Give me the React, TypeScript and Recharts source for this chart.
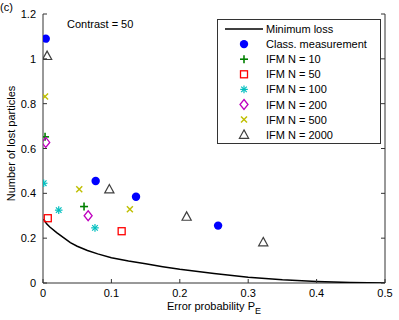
import React from 'react';
import { ScatterChart, Scatter, XAxis, YAxis } from 'recharts';

const FONT = "'Liberation Sans', Arial, sans-serif";
const AXIS = '#333';

// minimum loss curve
const minLoss = [
  { pe: 0.001, loss: 0.285 },
  { pe: 0.005, loss: 0.265 },
  { pe: 0.01, loss: 0.25 },
  { pe: 0.02, loss: 0.225 },
  { pe: 0.03, loss: 0.202 },
  { pe: 0.04, loss: 0.18 },
  { pe: 0.05, loss: 0.164 },
  { pe: 0.065, loss: 0.145 },
  { pe: 0.08, loss: 0.13 },
  { pe: 0.1, loss: 0.113 },
  { pe: 0.125, loss: 0.098 },
  { pe: 0.15, loss: 0.086 },
  { pe: 0.175, loss: 0.073 },
  { pe: 0.2, loss: 0.061 },
  { pe: 0.25, loss: 0.042 },
  { pe: 0.3, loss: 0.026 },
  { pe: 0.35, loss: 0.014 },
  { pe: 0.4, loss: 0.007 },
  { pe: 0.45, loss: 0.002 },
  { pe: 0.5, loss: 0 },
];

const classMeasurement = [
  { pe: 0.004, loss: 1.09 },
  { pe: 0.077, loss: 0.455 },
  { pe: 0.136, loss: 0.385 },
  { pe: 0.256, loss: 0.256 },
];
const ifm10 = [
  { pe: 0.003, loss: 0.652 },
  { pe: 0.06, loss: 0.341 },
];
const ifm50 = [
  { pe: 0.007, loss: 0.289 },
  { pe: 0.115, loss: 0.231 },
];
const ifm100 = [
  { pe: 0.001, loss: 0.445 },
  { pe: 0.023, loss: 0.325 },
  { pe: 0.076, loss: 0.246 },
];
const ifm200 = [
  { pe: 0.004, loss: 0.627 },
  { pe: 0.066, loss: 0.3 },
];
const ifm500 = [
  { pe: 0.003, loss: 0.832 },
  { pe: 0.053, loss: 0.418 },
  { pe: 0.127, loss: 0.329 },
];
const ifm2000 = [
  { pe: 0.006, loss: 1.013 },
  { pe: 0.097, loss: 0.418 },
  { pe: 0.21, loss: 0.296 },
  { pe: 0.322, loss: 0.182 },
];

const xTicks = [0, 0.1, 0.2, 0.3, 0.4, 0.5];
const yTicks = [0, 0.2, 0.4, 0.6, 0.8, 1, 1.2];

type Kind = 'circle' | 'plus' | 'square' | 'star' | 'diamond' | 'cross' | 'triangle';

const series: { name: string; data: { pe: number; loss: number }[]; kind: Kind; color: string }[] = [
  { name: 'Class. measurement', data: classMeasurement, kind: 'circle', color: '#0000ff' },
  { name: 'IFM N = 10', data: ifm10, kind: 'plus', color: '#008000' },
  { name: 'IFM N = 50', data: ifm50, kind: 'square', color: '#ff0000' },
  { name: 'IFM N = 100', data: ifm100, kind: 'star', color: '#00bfbf' },
  { name: 'IFM N = 200', data: ifm200, kind: 'diamond', color: '#bf00bf' },
  { name: 'IFM N = 500', data: ifm500, kind: 'cross', color: '#bfbf00' },
  { name: 'IFM N = 2000', data: ifm2000, kind: 'triangle', color: '#404040' },
];

function Marker({ kind, color, cx, cy }: { kind: Kind; color: string; cx: number; cy: number }) {
  const sw = 1.3;
  switch (kind) {
    case 'circle':
      return <circle cx={cx} cy={cy} r={4.2} fill={color} />;
    case 'plus':
      return (
        <g stroke={color} strokeWidth={1.6}>
          <line x1={cx - 4} y1={cy} x2={cx + 4} y2={cy} />
          <line x1={cx} y1={cy - 4} x2={cx} y2={cy + 4} />
        </g>
      );
    case 'square':
      return <rect x={cx - 3.5} y={cy - 3.5} width={7} height={7} fill="none" stroke={color} strokeWidth={sw} />;
    case 'star':
      return (
        <g stroke={color} strokeWidth={1.2}>
          <line x1={cx - 3.8} y1={cy} x2={cx + 3.8} y2={cy} />
          <line x1={cx} y1={cy - 3.8} x2={cx} y2={cy + 3.8} />
          <line x1={cx - 2.8} y1={cy - 2.8} x2={cx + 2.8} y2={cy + 2.8} />
          <line x1={cx - 2.8} y1={cy + 2.8} x2={cx + 2.8} y2={cy - 2.8} />
        </g>
      );
    case 'diamond':
      return (
        <polygon
          points={`${cx},${cy - 5} ${cx + 4},${cy} ${cx},${cy + 5} ${cx - 4},${cy}`}
          fill="none"
          stroke={color}
          strokeWidth={sw}
        />
      );
    case 'cross':
      return (
        <g stroke={color} strokeWidth={1.4}>
          <line x1={cx - 3} y1={cy - 3} x2={cx + 3} y2={cy + 3} />
          <line x1={cx - 3} y1={cy + 3} x2={cx + 3} y2={cy - 3} />
        </g>
      );
    case 'triangle':
      return (
        <polygon
          points={`${cx},${cy - 4.8} ${cx + 4.6},${cy + 3.6} ${cx - 4.6},${cy + 3.6}`}
          fill="none"
          stroke={color}
          strokeWidth={1.2}
        />
      );
  }
  return null;
}

const BottomTick = (props: any) => {
  const { x, y, payload } = props;
  return (
    <g>
      <line x1={x} y1={y} x2={x} y2={y - 4} stroke={AXIS} />
      <text x={x} y={y + 14} textAnchor="middle" fontSize={11} fontFamily={FONT} fill="#000">
        {payload.value}
      </text>
    </g>
  );
};

const TopTick = (props: any) => {
  const { x, y } = props;
  return <line x1={x} y1={y} x2={x} y2={y + 4} stroke={AXIS} />;
};

const LeftTick = (props: any) => {
  const { x, y, payload } = props;
  return (
    <g>
      <line x1={x} y1={y} x2={x + 4} y2={y} stroke={AXIS} />
      <text x={x - 7} y={y + 4} textAnchor="end" fontSize={11} fontFamily={FONT} fill="#000">
        {payload.value}
      </text>
    </g>
  );
};

const RightTick = (props: any) => {
  const { x, y } = props;
  return <line x1={x} y1={y} x2={x - 4} y2={y} stroke={AXIS} />;
};

function LegendBox() {
  const rowH = 15.1;
  return (
    <svg width={165} height={126} style={{ display: 'block' }}>
      <rect x={0.5} y={0.5} width={163} height={124} fill="#fff" stroke={AXIS} />
      <line x1={8} y1={10} x2={46} y2={10} stroke="#000" strokeWidth={1.5} />
      <text x={49} y={14} fontSize={11} fontFamily={FONT} fill="#000">
        Minimum loss
      </text>
      {series.map((s, i) => {
        const cy = 10 + rowH * (i + 1);
        return (
          <g key={s.name}>
            <Marker kind={s.kind} color={s.color} cx={27} cy={cy} />
            <text x={49} y={cy + 4} fontSize={11} fontFamily={FONT} fill="#000">
              {s.name}
            </text>
          </g>
        );
      })}
    </svg>
  );
}

export default function App() {
  return (
    <div style={{ position: 'absolute', left: 0, top: 0, width: 399, height: 320, background: '#fff', fontFamily: FONT }}>
      <ScatterChart width={399} height={320} margin={{ top: 14, right: 13, left: 0, bottom: 0 }}>
        <XAxis
          xAxisId="b"
          type="number"
          dataKey="pe"
          domain={[0, 0.5]}
          ticks={xTicks}
          height={37}
          tickSize={0}
          tickMargin={0}
          tick={<BottomTick />}
          axisLine={{ stroke: AXIS }}
          allowDataOverflow
          label={{
            content: (p: any) => {
              const vb = p.viewBox;
              const cx = vb.x + vb.width / 2;
              return (
                <text x={cx} y={vb.y + 27} textAnchor="middle" fontSize={11} fontFamily={FONT} fill="#000">
                  Error probability P
                  <tspan fontSize={9} dy={4}>E</tspan>
                </text>
              );
            },
          }}
        />
        <XAxis
          xAxisId="t"
          orientation="top"
          type="number"
          dataKey="pe"
          domain={[0, 0.5]}
          ticks={xTicks}
          height={0}
          tickSize={0}
          tickMargin={0}
          tick={<TopTick />}
          axisLine={{ stroke: AXIS }}
          allowDataOverflow
        />
        <YAxis
          yAxisId="l"
          type="number"
          dataKey="loss"
          domain={[0, 1.2]}
          ticks={yTicks}
          width={43}
          tickSize={0}
          tickMargin={0}
          tick={<LeftTick />}
          axisLine={{ stroke: AXIS }}
          allowDataOverflow
          label={{
            content: (p: any) => {
              const vb = p.viewBox;
              const cy = vb.y + vb.height / 2 - 5;
              return (
                <text
                  x={11}
                  y={cy}
                  transform={`rotate(-90 11 ${cy})`}
                  textAnchor="middle"
                  dominantBaseline="central"
                  fontSize={11}
                  fontFamily={FONT}
                  fill="#000"
                >
                  Number of lost particles
                </text>
              );
            },
          }}
        />
        <YAxis
          yAxisId="r"
          orientation="right"
          type="number"
          dataKey="loss"
          domain={[0, 1.2]}
          ticks={yTicks}
          width={1}
          tickSize={0}
          tickMargin={0}
          tick={<RightTick />}
          axisLine={{ stroke: AXIS }}
          allowDataOverflow
        />
        <Scatter
          name="Minimum loss"
          data={minLoss}
          xAxisId="b"
          yAxisId="l"
          line={{ stroke: '#000', strokeWidth: 1.5 }}
          lineType="joint"
          shape={() => <g />}
          isAnimationActive={false}
        />
        {series.map((s) => (
          <Scatter
            key={s.name}
            name={s.name}
            data={s.data}
            xAxisId="b"
            yAxisId="l"
            shape={(p: any) => <Marker kind={s.kind} color={s.color} cx={p.cx} cy={p.cy} />}
            isAnimationActive={false}
          />
        ))}
      </ScatterChart>
      <div style={{ position: 'absolute', left: 217, top: 19 }}>
        <LegendBox />
      </div>
      <div style={{ position: 'absolute', left: 0, top: 1, fontSize: 11, color: '#000' }}>(c)</div>
      <div style={{ position: 'absolute', left: 67, top: 18, fontSize: 11, color: '#000' }}>Contrast = 50</div>
    </div>
  );
}
